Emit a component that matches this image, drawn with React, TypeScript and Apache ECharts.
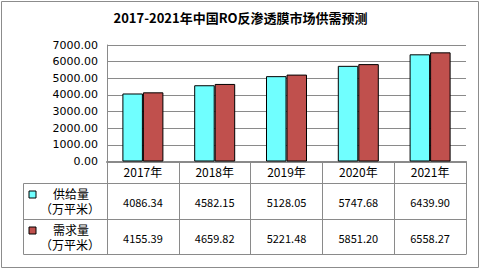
import React, { useEffect, useRef } from "react";
import * as echarts from "echarts";

const categories = ["2017年", "2018年", "2019年", "2020年", "2021年"];
const supply = [4086.34, 4582.15, 5128.05, 5747.68, 6439.9];
const demand = [4155.39, 4659.82, 5221.48, 5851.2, 6558.27];
const seriesNames = ["供给量", "需求量"];
const unitLabel = "（万平米）";
const titleText = "2017-2021年中国RO反渗透膜市场供需预测";

const W = 481;
const H = 271;
const GL = 107;
const GR = 466;
const GT = 45;
const GB = 161.5;
const TABLE_LEFT = 23.5;
const ROW1 = 183.5;
const ROW2 = 219.5;
const ROW3 = 254.5;
const CJK = "'Noto Sans CJK SC', sans-serif";
const NUM = "'Noto Sans CJK SC', sans-serif";
const GRID_COLOR = "#8a8a8a";
const COLORS = ["#70FFFF", "#C0504D"];

export default function App() {
  const ref = useRef<HTMLDivElement>(null);
  useEffect(() => {
    document.body.style.margin = "0";
    const chart = echarts.init(ref.current!, null, { renderer: "svg" });
    const colW = (GR - GL) / categories.length;
    const rows = [supply, demand];
    const rowTop = [ROW1, ROW2];
    const graphics: any[] = [
      {
        type: "rect",
        shape: { x: 1.5, y: 1.5, width: W - 4, height: H - 5 },
        style: { fill: "none", stroke: "#8c8c8c", lineWidth: 1 },
        silent: true,
      },
    ];
    [ROW1, ROW2, ROW3].forEach((y) =>
      graphics.push({
        type: "line",
        shape: { x1: TABLE_LEFT, y1: y, x2: GR, y2: y },
        style: { stroke: GRID_COLOR, lineWidth: 1 },
      })
    );
    graphics.push({
      type: "line",
      shape: { x1: TABLE_LEFT, y1: ROW1, x2: TABLE_LEFT, y2: ROW3 },
      style: { stroke: GRID_COLOR, lineWidth: 1 },
    });
    rows.forEach((vals, r) => {
      const top = rowTop[r];
      const mid = top + (ROW2 - ROW1) / 2;
      graphics.push({
        type: "rect",
        shape: { x: 29, y: top + 7.5, width: 7, height: 7 },
        style: { fill: COLORS[r], stroke: "#000", lineWidth: 1 },
      });
      graphics.push({
        type: "text",
        x: 71,
        y: top + 9.5,
        style: {
          text: seriesNames[r],
          font: `12px ${CJK}`,
          fill: "#000",
          align: "center",
          verticalAlign: "middle",
        },
      });
      graphics.push({
        type: "text",
        x: 70,
        y: top + 25,
        style: {
          text: unitLabel,
          font: `12px ${CJK}`,
          fill: "#000",
          align: "center",
          verticalAlign: "middle",
        },
      });
      vals.forEach((v, i) => {
        graphics.push({
          type: "text",
          x: GL + colW * (i + 0.5),
          y: mid,
          style: {
            text: v.toFixed(2),
            font: `11px ${NUM}`,
            fill: "#000",
            align: "center",
            verticalAlign: "middle",
          },
        });
      });
    });

    chart.setOption({
      animation: false,
      title: {
        text: titleText,
        left: "center",
        top: 11,
        padding: 0,
        textStyle: { fontSize: 13, fontWeight: "bold", color: "#000", fontFamily: CJK },
      },
      grid: { left: GL, right: W - GR, top: GT, bottom: H - GB, containLabel: false },
      xAxis: {
        type: "category",
        data: categories,
        axisLine: { lineStyle: { color: GRID_COLOR, width: 2 } },
        axisTick: {
          show: true,
          alignWithLabel: false,
          length: ROW3 - GB,
          lineStyle: { color: GRID_COLOR, width: 1 },
        },
        axisLabel: { margin: 4, fontSize: 12, color: "#000", fontFamily: NUM },
      },
      yAxis: {
        type: "value",
        min: 0,
        max: 7000,
        interval: 1000,
        axisLine: { show: true, lineStyle: { color: GRID_COLOR } },
        axisTick: { show: false },
        splitLine: { lineStyle: { color: GRID_COLOR, width: 1 } },
        axisLabel: {
          margin: 9,
          fontSize: 11,
          color: "#000",
          fontFamily: "'DejaVu Sans', sans-serif",
          formatter: (v: number) => v.toFixed(2),
        },
      },
      series: [
        {
          name: seriesNames[0],
          type: "bar",
          data: supply,
          barWidth: 20.5,
          barGap: "0%",
          itemStyle: { color: COLORS[0], borderColor: "#000", borderWidth: 1 },
        },
        {
          name: seriesNames[1],
          type: "bar",
          data: demand,
          barWidth: 20.5,
          barGap: "0%",
          itemStyle: { color: COLORS[1], borderColor: "#000", borderWidth: 1 },
        },
      ],
      graphic: graphics,
    });
    return () => chart.dispose();
  }, []);
  return <div ref={ref} style={{ width: W, height: H }} />;
}
